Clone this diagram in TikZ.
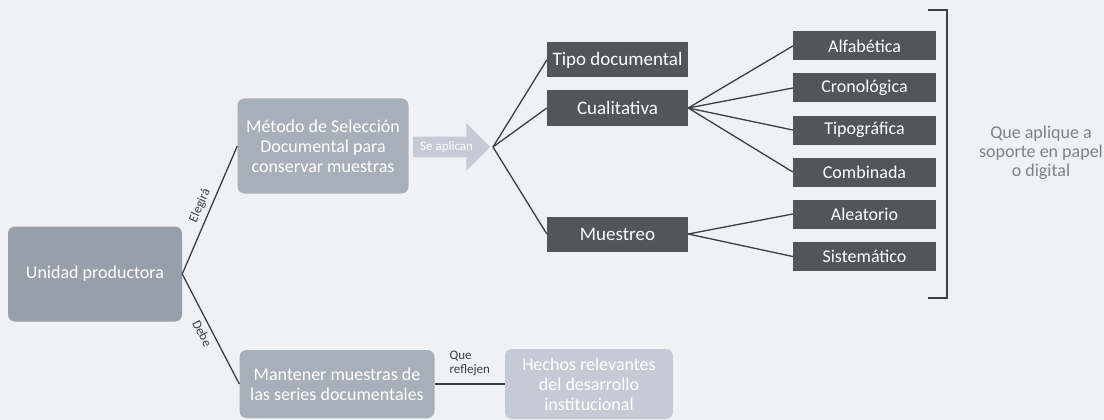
\documentclass[tikz,border=0pt]{standalone}
\usepackage{fontspec}
\setmainfont{Carlito}
\usetikzlibrary{positioning,shapes.arrows}
\definecolor{bgpaper}{HTML}{EEF2F6}
\definecolor{midgray}{HTML}{979FA9}
\definecolor{lightgray}{HTML}{A7AFB8}
\definecolor{palegray}{HTML}{C4CBD4}
\definecolor{darkgray}{HTML}{50565C}
\definecolor{inkgray}{HTML}{3A3F45}
\definecolor{notegray}{HTML}{7C828A}
\tikzset{
    soft/.style ={
        shape=rectangle,
        rounded corners=7pt,
        fill=midgray,
        text=white,
        align=center,
        font=\fontsize{18}{20}\selectfont,
        inner sep=0pt
    },
    dark/.style ={
        shape=rectangle,
        fill=darkgray,
        text=white,
        font=\fontsize{19}{21}\selectfont,
        inner sep=0pt
    },
    leaf/.style ={
        dark,
        minimum width=143pt,
        minimum height=29pt,
        font=\fontsize{18}{20}\selectfont
    },
    mid/.style ={
        dark,
        minimum width=141pt,
        minimum height=35pt
    },
    link/.style ={
        draw=inkgray,
        line width=1.3pt
    },
    tag/.style ={
        font=\fontsize{13}{14}\selectfont,
        text=inkgray
    }
}

\begin{document}
\begin{tikzpicture}[x=1pt,y=-1pt]
    \fill[bgpaper] (0,0) rectangle (1104,420);
    \useasboundingbox (0,0) rectangle (1104,420);
    \node[soft,minimum width=174pt,minimum height=95pt] (unidad) at(95,274) {Unidad productora};
    \node[soft,fill=lightgray,minimum width=171pt,minimum height=95pt] (metodo) at(323,146) {Método de Selección\\Documental para\\conservar muestras};
    \node[soft,fill=lightgray,minimum width=195pt,minimum height=68pt] (mantener) at(337,384) {Mantener muestras de\\las series documentales};
    \node[soft,fill=palegray,minimum width=168pt,minimum height=70pt] (hechos) at(589,384) {Hechos relevantes\\del desarrollo\\institucional};
    \node[single arrow,fill=palegray,text=white,font=\fontsize{13}{14}\selectfont,
        minimum height=77pt,inner xsep=2pt,inner ysep=4.5pt,
        single arrow head extend=13.5pt,anchor=tail] (aplica) at(413,147) {Se aplican};
    \coordinate (fork) at(493,147);
    \node[mid] (tipo) at(617.5,60) {Tipo documental};
    \node[mid] (cuali) at(617.5,108) {Cualitativa};
    \node[mid] (muestreo) at(617.5,234) {Muestreo};
    \node[leaf] (alfa) at(864.5,46) {Alfabética};
    \node[leaf] (crono) at(864.5,88) {Cronológica};
    \node[leaf] (tipog) at(864.5,130) {Tipográfica};
    \node[leaf] (combi) at(864.5,172) {Combinada};
    \node[leaf] (alea) at(864.5,214) {Aleatorio};
    \node[leaf] (siste) at(864.5,256.5) {Sistemático};
    \coordinate (btop) at(947,10);
    \coordinate (bbot) at(947,298);
    \node[text=notegray,align=center,font=\fontsize{18}{19}\selectfont] (nota) at(1041,153) {Que aplique a\\soporte en papel\\o digital};
    % conectores
    \draw[link] (unidad.east) -- node[tag,midway,above=1pt,sloped] {Elegirá} (metodo.west);
    \draw[link] (unidad.east) -- node[tag,midway,below=1pt,sloped] {Debe} (mantener.west);
    \draw[link] (mantener.east) -- node[tag,midway,above=4pt,align=left] {Que\\reflejen} (hechos.west);
    \draw[link] (fork) -- (tipo.west);
    \draw[link] (fork) -- (cuali.west);
    \draw[link] (fork) -- (muestreo.west);
    \draw[link] (cuali.east) -- (alfa.west);
    \draw[link] (cuali.east) -- (crono.west);
    \draw[link] (cuali.east) -- (tipog.west);
    \draw[link] (cuali.east) -- (combi.west);
    \draw[link] (muestreo.east) -- (alea.west);
    \draw[link] (muestreo.east) -- (siste.west);
    \draw[link] ([xshift=-19pt]btop) -- (btop) -- (bbot) -- ([xshift=-19pt]bbot);
\end{tikzpicture}
\end{document}
